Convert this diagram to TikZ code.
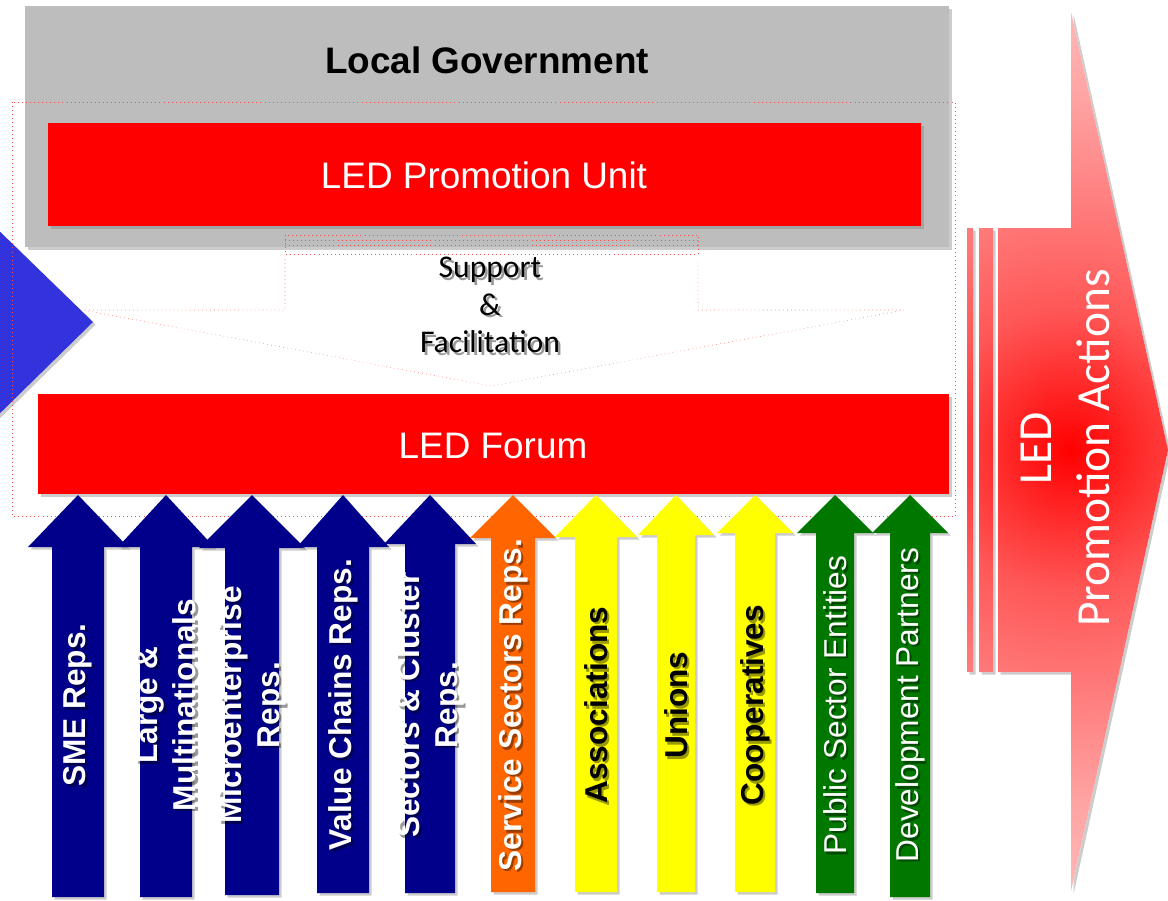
\documentclass[tikz,border=0pt]{standalone}
\usepackage{fontspec}
\setmainfont{Liberation Sans}
\newfontfamily\carlito{Carlito}
\usetikzlibrary{shadows}
\definecolor{govgrey}{RGB}{189,189,189}
\definecolor{ledred}{RGB}{255,0,0}
\definecolor{repnavy}{RGB}{0,0,139}
\definecolor{wedgeblue}{RGB}{51,51,221}
\definecolor{serviceorange}{RGB}{255,102,0}
\definecolor{civilyellow}{RGB}{255,255,0}
\definecolor{publicgreen}{RGB}{0,120,0}
\pgfdeclareradialshading{actionglow}{\pgfpoint{0bp}{0bp}}{color(0bp)=(red); color(8bp)=(red!66); color(20bp)=(red!36); color(35bp)=(red!12); color(50bp)=(red!2)}

\begin{document}
\begin{tikzpicture}[x=0.02cm, y=-0.02cm,
        softshadow/.style={drop shadow={shadow xshift=1.5pt, shadow yshift=-1.5pt, opacity=0.4}},
        textshadow/.style={text=black, opacity=0.4},
        guide/.style={red!70, dotted, line width=0.3pt},
        bigtext/.style={font=\fontsize{21}{25}\selectfont},
        reptext/.style={rotate=90, align=center},
        navy-arrow/.style={fill=repnavy},
        orange-arrow/.style={fill=serviceorange},
        yellow-arrow/.style={fill=civilyellow},
        green-arrow/.style={fill=publicgreen},
        navy-label/.style={reptext, text=white, font=\bfseries\fontsize{18}{21.5}\selectfont},
        orange-label/.style={navy-label},
        yellow-label/.style={reptext, text=black, font=\bfseries\fontsize{18}{21.5}\selectfont},
        green-label/.style={reptext, text=white, font=\fontsize{18}{21.5}\selectfont},
        supporttext/.style={align=center, font=\carlito\fontsize{18}{21.5}\selectfont}]
    \useasboundingbox (0,0) rectangle (1168,900);

    \fill[wedgeblue, softshadow] (-10,222) -- (93,322) -- (-10,423) -- cycle;
    \fill[govgrey, softshadow] (25,6) rectangle (949,247);
    \fill[ledred, softshadow] (48,123) rectangle (921,226);
    \fill[ledred, softshadow] (38,394) rectangle (949,494);

    \node[bigtext, font=\bfseries\fontsize{21}{25}\selectfont] (gov) at (487,60) {Local Government};
    \node[bigtext, text=white] (unit) at (484,175) {LED Promotion Unit};
    \node[bigtext, text=white] (forum) at (493,446) {LED Forum};

    \draw[guide] (12,102) rectangle (955,516);
    \draw[guide] (285,235) rectangle (698,254);
    \draw[guide] (285,240) -- (698,240) (285,245) -- (698,245);
    \draw[guide] (285,259) -- (285,310) -- (83,310) -- (491,386) -- (904,310) -- (698,310) -- (698,259);
    \node[supporttext, textshadow] (support-shadow) at ([shift={(1.5pt,-1.5pt)}]490,305) {Support\\\&\\Facilitation};
    \node[supporttext] (support) at (490,305) {Support\\\&\\Facilitation};

    \foreach \n/\cx/\sw/\hw/\hb/\yb/\kind/\txt in {
            sme/78/26/50/547/897/navy/{SME Reps.},
            large/166/26/48/547/897/navy/{Large \&\\Multinationals},
            micro/252/27/53/548/895/navy/{Microenterprise\\Reps.},
            value/343/26/46/547/893/navy/{Value Chains Reps.},
            cluster/430/25/46/544/893/navy/{Sectors \& Cluster\\Reps.},
            service/513/22/43/538/892/orange/{Service Sectors Reps.},
            assoc/596/21/41/537/892/yellow/{Associations},
            unions/676/19/38/535/892/yellow/{Unions},
            coop/755/20/38/533/892/yellow/{Cooperatives},
            public/835/19/38/533/893/green/{Public Sector Entities},
            partners/910/20/38/533/897/green/{Development Partners}} {
        \fill[\kind-arrow, softshadow] ({\cx-\sw},\yb) -- ({\cx-\sw},\hb) -- ({\cx-\hw},\hb) -- (\cx,495)
            -- ({\cx+\hw},\hb) -- ({\cx+\sw},\hb) -- ({\cx+\sw},\yb) -- cycle;
        \node[\kind-label, textshadow] (\n-shadow) at ([shift={(1.5pt,-1.5pt)}]\cx,705) {\txt};
        \node[\kind-label] (\n) at (\cx,705) {\txt};
    }

    \path[softshadow, fill=white] (967,228) rectangle (973,672) (979,228) rectangle (993,672)
        (998,228) -- (1071,228) -- (1071,12) -- (1168,450) -- (1071,891) -- (1071,672) -- (998,672) -- cycle;
    \begin{scope}
        \clip (967,228) rectangle (973,672) (979,228) rectangle (993,672)
            (998,228) -- (1071,228) -- (1071,12) -- (1168,450) -- (1071,891) -- (1071,672) -- (998,672) -- cycle;
        \shade[shading=actionglow] (630,10) rectangle (1510,890);
    \end{scope}
    \node[rotate=90, align=center, text=white, font=\carlito\fontsize{27}{33}\selectfont] (actions) at (1065,448) {LED\\Promotion Actions};
\end{tikzpicture}
\end{document}
